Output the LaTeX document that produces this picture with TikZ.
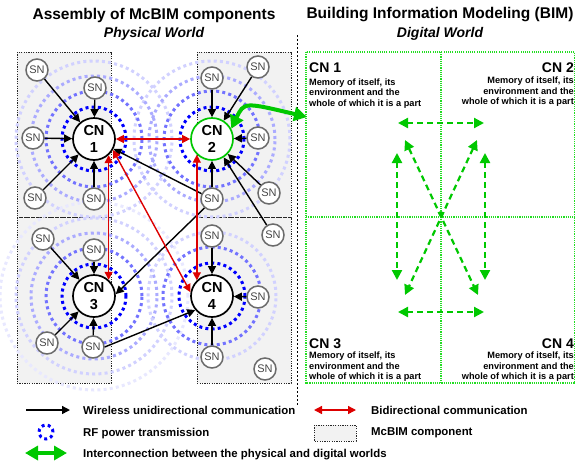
\documentclass[tikz,border=0pt]{standalone}
\usepackage{fontspec}
\setmainfont{Liberation Sans}
\usetikzlibrary{arrows.meta}
\definecolor{gdark}{HTML}{00C800}
\definecolor{glight}{HTML}{22DD22}
\definecolor{rd}{HTML}{DD0000}
\definecolor{boxfill}{HTML}{F2F2F2}
\begin{document}
\begin{tikzpicture}[x=1pt,y=-1pt,
  comp/.style={fill=boxfill, draw=black!85, line width=1pt, dash pattern=on 1.2pt off 1.2pt},
  ringA/.style={draw=blue, line width=3pt, dash pattern=on 3pt off 3.2pt},
  ringB/.style={ringA, draw=blue!55},
  ringC/.style={ringA, draw=blue!33},
  ringD/.style={ringA, draw=blue!18},
  ringE/.style={ringA, draw=blue!9},
  sn/.style={circle, draw=black!58, fill=white, line width=1.5pt, minimum size=22pt, inner sep=0pt, text=black!72, font=\fontsize{11}{12}\selectfont},
  cn/.style={circle, draw=black, fill=white, line width=1.7pt, minimum size=42pt, inner sep=0pt, align=center, font=\bfseries\fontsize{14.5}{17}\selectfont},
  blk/.style={-{Triangle[length=8pt,width=8pt]}, line width=1.4pt, draw=black},
  bid/.style={{Triangle[length=8pt,width=8pt]}-{Triangle[length=8pt,width=8pt]}, line width=1.4pt, draw=rd},
  gbig/.style={{Triangle[length=13pt,width=14pt]}-{Triangle[length=13pt,width=14pt]}, line width=4pt, draw=gdark},
  gdash/.style={{Triangle[length=10pt,width=10pt]}-{Triangle[length=10pt,width=10pt]}, line width=2.2pt, draw=gdark, dash pattern=on 6pt off 4pt},
  grid/.style={draw=glight, line width=1.1pt, dash pattern=on 1.1pt off 1.1pt},
  title/.style={font=\bfseries\fontsize{15.5}{18}\selectfont},
  subtitle/.style={font=\bfseries\itshape\fontsize{14}{16}\selectfont},
  cellhead/.style={font=\bfseries\fontsize{14}{16}\selectfont, inner sep=0pt},
  celltext/.style={font=\bfseries\fontsize{9.2}{10.5}\selectfont, inner sep=0pt},
  legtext/.style={font=\bfseries\fontsize{11.4}{13}\selectfont, inner sep=0pt, anchor=base west}
]
\useasboundingbox (0,0) rectangle (575,464);

% titles
\node[title] (t1) at (154,15) {Assembly of McBIM components};
\node[subtitle] (t2) at (154,34) {Physical World};
\node[title] (t3) at (440,15) {Building Information Modeling (BIM)};
\node[subtitle] (t4) at (440,34) {Digital World};

% divider
\coordinate (divA) at (297,35);
\coordinate (divB) at (297,406);
\draw[line width=0.7pt, dash pattern=on 2pt off 2pt] (divA) -- (divB);

% McBIM components
\draw[comp] (17,52) rectangle (111,217.5);
\draw[comp] (17,217.5) rectangle (111,383);
\draw[comp] (197,52) rectangle (291,217.5);
\draw[comp] (197,217.5) rectangle (291,383);

% CN positions
\coordinate (c1) at (94,139);
\coordinate (c2) at (212,139);
\coordinate (c3) at (94,296);
\coordinate (c4) at (212,296);

% RF rings
\draw[ringE] (c3) circle (94pt);
\draw[ringD] (c1) circle (78pt);
\draw[ringD] (c2) circle (78pt);
\draw[ringD] (c3) circle (78pt);
\draw[ringC] (c1) circle (63pt);
\draw[ringC] (c2) circle (63pt);
\draw[ringC] (c3) circle (63pt);
\draw[ringD] (c4) circle (64pt);
\draw[ringB] (c1) circle (48pt);
\draw[ringB] (c2) circle (48pt);
\draw[ringB] (c3) circle (48pt);
\draw[ringB] (c4) circle (49pt);
\draw[ringA] (c1) circle (32pt);
\draw[ringA] (c2) circle (32pt);
\draw[ringA] (c3) circle (32pt);
\draw[ringA] (c4) circle (33pt);

% CN nodes
\node[cn] (CN1) at (c1) {CN\\1};
\node[cn, draw=gdark] (CN2) at (c2) {CN\\2};
\node[cn] (CN3) at (c3) {CN\\3};
\node[cn] (CN4) at (c4) {CN\\4};

% SN nodes
\node[sn] (s11) at (37,70) {SN};
\node[sn] (s12) at (95,88) {SN};
\node[sn] (s13) at (33,138) {SN};
\node[sn] (s14) at (35,198) {SN};
\node[sn] (s15) at (94,199) {SN};
\node[sn] (s21) at (212,78) {SN};
\node[sn] (s22) at (258,67) {SN};
\node[sn] (s23) at (258,138) {SN};
\node[sn] (s24) at (269,193) {SN};
\node[sn] (s25) at (212,199) {SN};
\node[sn] (s31) at (43,239) {SN};
\node[sn] (s32) at (94,250) {SN};
\node[sn] (s33) at (47,343) {SN};
\node[sn] (s34) at (93,347) {SN};
\node[sn] (s41) at (212,236) {SN};
\node[sn] (s42) at (273,235) {SN};
\node[sn] (s43) at (258,297) {SN};
\node[sn] (s44) at (212,357) {SN};
\node[sn] (s45) at (265,369) {SN};

% wireless unidirectional
\draw[blk] (s11) -- (CN1);
\draw[blk] (s12) -- (CN1);
\draw[blk] (s13) -- (CN1);
\draw[blk] (s14) -- (CN1);
\draw[blk] (s15) -- (CN1);
\draw[blk] (s25) -- (CN1);
\draw[blk] (s21) -- (CN2);
\draw[blk] (s22) -- (CN2);
\draw[blk] (s23) -- (CN2);
\draw[blk] (s24) -- (CN2);
\draw[blk] (s25) -- (CN2);
\draw[blk] (s42) -- (CN2);
\draw[blk] (s25.-130) -- (CN3.5);
\draw[blk] (s31) -- (CN3);
\draw[blk] (s32) -- (CN3);
\draw[blk] (s33) -- (CN3);
\draw[blk] (s34) -- (CN3);
\draw[blk] (s34.east) -- (CN4.-140);
\draw[blk] (s41) -- (CN4);
\draw[blk] (s43) -- (CN4);
\draw[blk] (s44) -- (CN4);

% bidirectional
\draw[bid] (CN1) -- (CN2);
\draw[bid] (CN1.-48) -- (CN3.48);
\draw[bid] (CN1.-30) -- (CN4.170);
\draw[bid] (CN2.-134) -- (CN4.134);

% digital world grid
\draw[grid] (306,52) rectangle (574.5,383);
\draw[grid] (441,52) -- (441,383);
\draw[grid] (306,217) -- (574.5,217);

% interconnection
\coordinate (dw) at (307,117);
\draw[gbig] (CN2.28) .. controls (244,102) .. (dw);

% cell texts
\node[cellhead, anchor=base west] (h1) at (309,72) {CN 1};
\node[celltext, anchor=north west, align=left] (m1) at (309,78.5) {Memory of itself, its\\environment and the\\whole of which it is a part};
\node[cellhead, anchor=base east] (h2) at (574,72) {CN 2};
\node[celltext, anchor=north east, align=right] (m2) at (574,77) {Memory of itself, its\\environment and the\\whole of which it is a part};
\node[cellhead, anchor=base west] (h3) at (309,348) {CN 3};
\node[celltext, anchor=north west, align=left] (m3) at (309,352) {Memory of itself, its\\environment and the\\whole of which it is a part};
\node[cellhead, anchor=base east] (h4) at (574,348) {CN 4};
\node[celltext, anchor=north east, align=right] (m4) at (574,352) {Memory of itself, its\\environment and the\\whole of which it is a part};

% digital arrows
\coordinate (ta) at (398,123); \coordinate (tb) at (484,123);
\coordinate (ba) at (398,312); \coordinate (bb) at (484,312);
\coordinate (la) at (397,153); \coordinate (lb) at (397,280);
\coordinate (ra) at (485,153); \coordinate (rb) at (485,280);
\coordinate (da) at (405,140); \coordinate (db) at (478,295);
\coordinate (dc) at (477,140); \coordinate (dd) at (405,295);
\draw[gdash] (ta) -- (tb);
\draw[gdash] (ba) -- (bb);
\draw[gdash] (la) -- (lb);
\draw[gdash] (ra) -- (rb);
\draw[gdash] (da) -- (db);
\draw[gdash] (dc) -- (dd);
\fill[gdark] (437.5,212) -- (444.5,212) -- (441,218.5) -- cycle;

% legend
\coordinate (l1a) at (26,410); \coordinate (l1b) at (70,410);
\draw[blk] (l1a) -- (l1b);
\node[legtext] (lt1) at (83,414) {Wireless unidirectional communication};
\coordinate (l2a) at (314,410); \coordinate (l2b) at (356,410);
\draw[bid] (l2a) -- (l2b);
\node[legtext] (lt2) at (371,414) {Bidirectional communication};
\coordinate (l3) at (46,432);
\draw[ringA] (l3) circle (7pt);
\node[legtext] (lt3) at (83,436) {RF power transmission};
\draw[comp] (314,425) rectangle (356,441);
\node[legtext] (lt4) at (371,435) {McBIM component};
\coordinate (l5a) at (25,453); \coordinate (l5b) at (67,453);
\draw[gbig] (l5a) -- (l5b);
\node[legtext] (lt5) at (83,457) {Interconnection between the physical and digital worlds};
\end{tikzpicture}
\end{document}
